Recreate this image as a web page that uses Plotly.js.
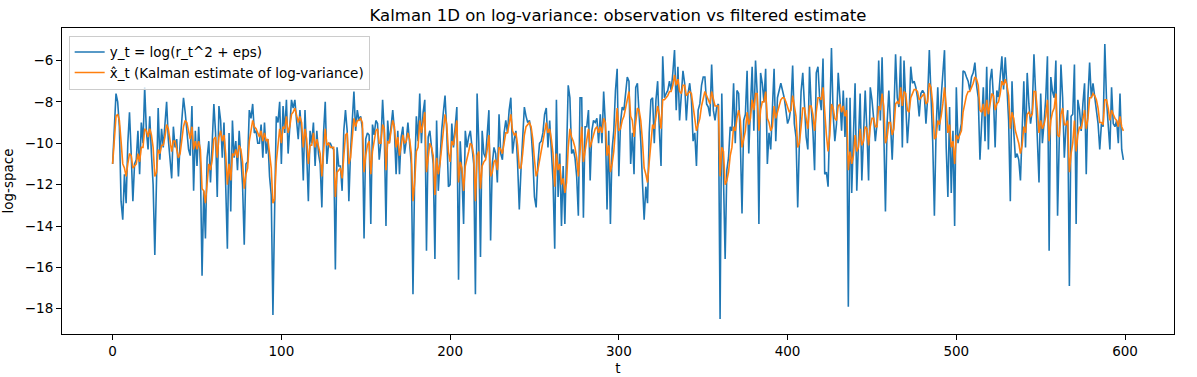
<!DOCTYPE html>
<html>
<head>
<meta charset="utf-8">
<script src="https://cdn.plot.ly/plotly-3.0.1.min.js"></script>
<style>html,body{margin:0;padding:0;background:#fff}#chart{width:1197px;height:377px}</style>
</head>
<body>
<div id="chart"></div>
<script>
const y_obs = [
-11.0,-9.0,-7.6,-8.0,-9.2,-12.8,-13.7,-11.5,-12.9,-10.0,
-8.5,-10.5,-12.8,-11.0,-10.8,-9.4,-11.5,-9.0,-10.0,-7.3,
-9.4,-10.3,-8.7,-10.5,-12.0,-15.4,-11.0,-8.3,-10.8,-9.3,
-10.2,-9.0,-8.0,-9.8,-10.7,-11.7,-9.2,-10.2,-9.8,-11.6,
-10.0,-8.8,-7.8,-8.5,-9.4,-10.3,-10.6,-8.2,-12.3,-9.4,
-11.1,-9.2,-11.0,-16.4,-12.3,-14.6,-10.7,-9.9,-11.9,-10.0,
-8.1,-9.5,-12.6,-8.2,-8.9,-10.7,-9.0,-12.0,-15.1,-9.5,
-13.3,-8.9,-10.7,-9.9,-11.3,-9.4,-10.5,-12.0,-14.9,-11.0,
-10.9,-8.4,-8.8,-8.1,-9.5,-9.4,-10.0,-10.0,-9.1,-10.7,
-9.0,-10.5,-9.8,-11.6,-12.5,-18.3,-13.3,-8.7,-9.0,-8.0,
-11.0,-8.2,-9.5,-7.9,-10.5,-9.0,-7.9,-8.3,-7.9,-8.9,
-9.8,-8.4,-9.5,-11.8,-8.4,-10.5,-12.8,-9.4,-10.0,-9.0,
-11.1,-9.4,-10.5,-11.0,-13.1,-9.5,-8.0,-11.0,-10.0,-10.0,
-10.2,-10.3,-16.1,-10.2,-11.1,-11.1,-12.3,-9.4,-8.4,-9.4,
-12.8,-10.4,-9.0,-7.5,-9.4,-8.4,-8.9,-8.7,-9.3,-14.6,
-9.8,-9.5,-9.6,-13.9,-9.1,-9.6,-8.9,-9.05,-10.8,-10.0,
-7.9,-9.5,-14.0,-8.9,-10.0,-9.2,-8.4,-9.4,-11.5,-9.4,
-11.5,-9.7,-9.2,-10.5,-9.9,-9.0,-9.9,-11.0,-17.3,-11.5,
-8.7,-9.9,-7.6,-10.0,-8.5,-7.9,-15.2,-9.7,-9.4,-10.3,
-11.0,-15.6,-8.9,-12.3,-10.5,-9.4,-8.5,-7.7,-9.4,-12.1,
-12.0,-9.05,-10.2,-9.0,-8.25,-16.6,-9.9,-11.5,-13.9,-9.4,
-10.2,-9.7,-9.4,-10.2,-11.0,-17.3,-7.6,-10.0,-15.5,-9.4,
-10.5,-10.7,-9.5,-8.4,-14.7,-11.0,-10.2,-10.5,-11.9,-8.6,
-10.5,-10.8,-9.5,-8.9,-9.5,-8.4,-7.8,-10.5,-9.8,-9.4,
-11.0,-13.2,-11.3,-9.5,-8.25,-8.7,-9.0,-8.9,-9.4,-10.7,
-12.6,-13.1,-11.0,-10.0,-9.9,-9.5,-8.6,-8.3,-10.2,-8.9,
-10.7,-11.8,-15.1,-7.9,-12.6,-10.5,-14.0,-11.1,-13.9,-11.0,
-7.2,-7.8,-10.5,-10.3,-10.7,-11.6,-13.5,-7.8,-7.8,-13.6,
-9.2,-9.2,-8.4,-11.8,-9.4,-8.9,-9.0,-8.8,-10.0,-8.6,
-10.0,-7.5,-9.05,-13.2,-9.4,-13.9,-10.3,-9.4,-7.45,-6.4,
-11.6,-9.0,-8.25,-8.4,-7.5,-6.8,-7.0,-11.0,-9.5,-11.5,
-7.3,-7.1,-8.6,-9.9,-11.9,-13.7,-12.1,-12.9,-9.5,-7.9,
-7.8,-10.0,-7.9,-7.0,-9.4,-11.1,-5.8,-7.8,-7.6,-7.45,
-7.0,-7.45,-6.6,-5.5,-8.4,-6.3,-8.9,-7.8,-6.5,-7.1,
-8.9,-7.6,-7.1,-7.9,-9.9,-9.5,-11.1,-8.4,-8.1,-7.2,
-6.8,-6.8,-8.1,-8.25,-8.7,-6.2,-8.4,-8.9,-8.25,-8.1,
-18.5,-7.6,-11.0,-15.6,-11.3,-10.7,-9.2,-9.4,-7.1,-10.0,
-7.45,-7.6,-9.9,-13.4,-8.9,-8.6,-6.5,-10.5,-8.25,-6.3,
-9.4,-6.0,-7.6,-13.9,-6.6,-7.1,-8.0,-6.4,-11.0,-9.5,
-10.3,-8.7,-6.4,-9.9,-7.8,-7.45,-7.1,-7.45,-7.8,-8.4,
-9.05,-8.8,-8.25,-6.24,-9.05,-9.7,-13.1,-9.9,-7.5,-6.6,
-8.25,-9.7,-10.3,-6.3,-8.25,-9.4,-11.3,-6.6,-6.3,-7.8,
-8.4,-5.9,-11.5,-11.4,-12.1,-7.8,-5.4,-8.6,-9.9,-9.05,
-6.6,-7.8,-9.4,-7.45,-9.7,-7.8,-17.9,-7.8,-12.4,-9.7,
-7.1,-12.3,-9.9,-7.6,-11.8,-9.4,-7.45,-9.4,-11.8,-7.3,
-7.9,-8.8,-9.9,-9.05,-6.0,-8.9,-5.85,-9.4,-13.3,-9.0,
-7.45,-9.05,-10.8,-8.7,-5.7,-7.8,-8.25,-5.8,-10.2,-6.0,
-7.8,-10.0,-8.7,-6.3,-7.1,-7.0,-7.3,-7.8,-8.7,-7.6,
-7.45,-7.6,-9.05,-7.8,-5.5,-7.8,-9.9,-13.5,-9.4,-7.3,
-9.4,-7.8,-6.8,-5.5,-10.2,-12.6,-8.25,-12.4,-9.4,-14.0,
-7.3,-10.0,-9.5,-9.05,-6.5,-6.56,-6.8,-7.0,-7.45,-6.8,
-6.6,-6.1,-7.2,-7.8,-10.8,-8.6,-7.3,-9.9,-6.3,-10.3,
-7.0,-6.4,-7.8,-10.2,-7.45,-7.77,-6.8,-5.8,-7.4,-5.85,
-7.3,-8.9,-12.8,-7.0,-9.4,-10.7,-10.5,-10.8,-11.8,-9.4,
-7.0,-10.2,-6.6,-8.1,-9.05,-8.4,-5.7,-7.6,-10.3,-11.9,
-7.6,-10.0,-9.0,-7.8,-5.8,-15.2,-6.8,-7.5,-7.8,-6.0,
-13.5,-9.9,-6.2,-7.8,-10.7,-9.2,-8.4,-16.9,-8.7,-8.6,
-6.2,-13.9,-7.9,-8.4,-9.4,-8.1,-7.1,-11.5,-7.8,-6.1,
-7.8,-7.1,-7.8,-8.25,-9.05,-10.3,-9.05,-9.2,-5.2,-7.9,
-9.05,-10.3,-7.3,-9.05,-9.2,-8.9,-10.0,-7.6,-10.3,-10.8
];

// Kalman estimate of log-variance, t = 0..599
const x_hat = [
-11.0,-9.8,-8.7,-8.6,-8.9,-9.9,-11.0,-11.2,-11.6,-11.0,
-10.5,-10.6,-11.2,-11.1,-11.0,-10.5,-10.9,-10.2,-10.2,-9.3,
-9.4,-9.7,-9.3,-9.6,-10.2,-11.6,-11.4,-10.3,-10.5,-10.1,
-10.1,-9.7,-9.1,-9.3,-9.8,-10.4,-9.9,-9.9,-10.3,-10.7,
-10.5,-9.9,-9.2,-8.9,-9.0,-9.4,-9.8,-9.2,-10.3,-9.9,
-10.3,-9.9,-10.3,-12.2,-12.3,-12.9,-11.9,-11.0,-11.3,-10.8,
-9.8,-9.7,-10.7,-9.7,-9.4,-9.9,-9.6,-10.5,-12.0,-11.0,
-11.8,-10.5,-10.6,-10.3,-10.7,-10.1,-10.3,-10.9,-12.2,-11.5,
-11.2,-9.9,-9.4,-8.9,-9.2,-9.3,-9.5,-9.7,-9.4,-9.9,
-9.5,-9.9,-9.8,-10.5,-11.2,-12.9,-12.7,-10.9,-10.0,-9.3,
-10.0,-9.2,-9.3,-8.7,-9.5,-9.2,-8.6,-8.5,-8.3,-8.6,
-9.0,-8.7,-9.0,-10.2,-9.3,-9.8,-11.0,-10.1,-10.1,-9.5,
-10.2,-9.8,-10.1,-10.5,-11.6,-10.5,-9.3,-10.1,-10.0,-10.2,
-10.2,-10.2,-12.6,-11.4,-11.3,-11.2,-11.7,-10.5,-9.6,-9.5,
-11.0,-10.7,-9.9,-8.8,-9.2,-8.9,-8.9,-8.8,-9.0,-11.4,
-10.6,-10.1,-9.9,-11.5,-10.4,-9.9,-9.4,-9.3,-10.0,-10.0,
-9.1,-9.3,-11.3,-9.9,-10.0,-9.4,-8.9,-9.2,-10.2,-9.7,
-10.6,-10.1,-9.6,-10.0,-9.9,-9.5,-9.8,-10.5,-12.8,-11.9,
-10.4,-10.2,-8.9,-9.5,-8.9,-8.5,-11.4,-10.5,-10.0,-10.2,
-10.6,-12.5,-10.7,-11.5,-11.0,-10.2,-9.3,-8.6,-9.1,-10.4,
-10.9,-9.9,-10.1,-9.5,-8.9,-11.9,-10.9,-11.2,-12.3,-11.1,
-10.8,-10.4,-10.0,-10.1,-10.6,-12.8,-10.6,-10.4,-12.2,-11.1,
-10.9,-10.8,-10.3,-9.6,-11.6,-11.4,-10.9,-10.8,-11.3,-10.2,
-10.3,-10.5,-10.0,-9.5,-9.5,-9.1,-8.6,-9.4,-9.6,-9.5,
-10.1,-11.2,-11.2,-10.5,-9.6,-9.2,-9.1,-9.0,-9.2,-9.8,
-10.8,-11.6,-11.3,-10.8,-10.4,-10.0,-9.4,-9.0,-9.5,-9.3,
-9.8,-10.5,-12.1,-10.5,-11.3,-11.0,-12.0,-11.7,-12.4,-11.9,
-10.2,-9.3,-9.7,-9.9,-10.2,-10.7,-11.6,-10.1,-9.2,-10.9,
-10.3,-9.9,-9.3,-10.2,-9.9,-9.5,-9.3,-9.2,-9.5,-9.2,
-9.5,-8.8,-9.0,-10.6,-10.1,-11.4,-11.0,-10.4,-9.3,-8.3,
-9.4,-9.3,-8.9,-8.7,-8.3,-7.8,-7.5,-8.7,-8.9,-9.7,
-8.8,-8.3,-8.4,-8.9,-9.9,-11.2,-11.5,-11.9,-10.9,-9.8,
-9.1,-9.3,-8.8,-8.2,-8.6,-9.3,-7.9,-7.9,-7.8,-7.7,
-7.5,-7.5,-7.2,-6.7,-7.2,-6.9,-7.5,-7.6,-7.2,-7.2,
-7.7,-7.6,-7.5,-7.6,-8.3,-8.7,-9.4,-9.1,-8.8,-8.2,
-7.8,-7.5,-7.7,-7.9,-8.1,-7.5,-7.8,-8.2,-8.2,-8.2,
-11.6,-10.2,-10.4,-12.0,-11.8,-11.4,-10.6,-10.2,-9.2,-9.4,
-8.8,-8.4,-8.9,-10.2,-9.8,-9.4,-8.5,-9.1,-8.8,-7.9,
-8.4,-7.6,-7.6,-9.4,-8.4,-8.0,-8.0,-7.5,-8.8,-9.0,
-9.4,-9.2,-8.2,-8.8,-8.5,-8.2,-7.9,-7.8,-7.8,-8.0,
-8.3,-8.5,-8.4,-7.7,-8.2,-8.7,-10.2,-10.0,-9.2,-8.3,
-8.3,-8.8,-9.3,-8.2,-8.2,-8.6,-9.4,-8.5,-7.8,-7.8,
-7.9,-7.3,-8.7,-9.6,-10.4,-9.6,-8.1,-8.3,-8.8,-8.9,
-8.2,-8.1,-8.5,-8.2,-8.7,-8.4,-11.3,-10.4,-11.0,-10.6,
-9.6,-10.4,-10.2,-9.3,-10.1,-9.9,-9.2,-9.3,-10.1,-9.2,
-8.8,-8.8,-9.2,-9.2,-8.2,-8.4,-7.6,-8.2,-10.0,-9.7,
-9.0,-9.0,-9.6,-9.3,-8.1,-8.0,-8.1,-7.3,-8.2,-7.5,
-7.6,-8.4,-8.5,-7.8,-7.6,-7.4,-7.4,-7.5,-7.9,-7.8,
-7.7,-7.6,-8.1,-8.0,-7.1,-7.3,-8.1,-9.8,-9.7,-8.9,
-9.1,-8.7,-8.1,-7.3,-8.2,-9.5,-9.1,-10.2,-9.9,-11.0,
-9.6,-9.8,-9.6,-9.4,-8.5,-8.0,-7.7,-7.5,-7.5,-7.3,
-7.1,-6.8,-6.9,-7.2,-8.4,-8.5,-8.1,-8.7,-7.9,-8.6,
-8.1,-7.6,-7.7,-8.4,-8.1,-8.0,-7.6,-7.0,-7.2,-6.9,
-7.2,-7.7,-9.3,-8.5,-8.8,-9.4,-9.7,-10.0,-10.5,-10.1,
-9.2,-9.5,-8.6,-8.5,-8.7,-8.6,-7.5,-7.5,-8.4,-9.5,
-8.9,-9.3,-9.1,-8.7,-7.9,-9.9,-8.9,-8.5,-8.3,-7.6,
-9.6,-9.7,-8.6,-8.3,-9.1,-9.1,-8.9,-11.4,-10.5,-10.0,
-8.9,-10.4,-9.6,-9.2,-9.3,-8.9,-8.4,-9.3,-8.8,-7.8,
-7.8,-7.6,-7.7,-7.9,-8.3,-9.0,-9.0,-9.1,-7.9,-7.9,
-8.3,-8.9,-8.4,-8.6,-8.8,-8.9,-9.2,-8.7,-9.2,-9.4
];

const t = y_obs.map((_, i) => i);

const seriesNames = ["y_t = log(r_t^2 + eps)", "x\u0302_t (Kalman estimate of log-variance)"];
const xTicks = [0, 100, 200, 300, 400, 500, 600];
const yTicks = [-18, -16, -14, -12, -10, -8, -6];

const font = "DejaVu Sans, sans-serif";

const traces = [
  {x: t, y: y_obs, type: "scatter", mode: "lines", name: seriesNames[0],
   line: {color: "#1f77b4", width: 1.6}},
  {x: t, y: x_hat, type: "scatter", mode: "lines", name: seriesNames[1],
   line: {color: "#ff7f0e", width: 1.6}}
];

const axisCommon = {
  showgrid: false, zeroline: false, showline: true, mirror: true,
  linecolor: "#000", linewidth: 1, ticks: "outside", ticklen: 5,
  tickcolor: "#000", tickwidth: 1,
  tickfont: {family: font, size: 13.5, color: "#000"}
};

const layout = {
  width: 1197, height: 377,
  margin: {l: 62, r: 23, t: 28, b: 43},
  paper_bgcolor: "#fff", plot_bgcolor: "#fff",
  font: {family: font, size: 14, color: "#000"},
  title: {text: "Kalman 1D on log-variance: observation vs filtered estimate",
          font: {family: font, size: 16.5, color: "#000"},
          x: 0.5, xref: "paper", xanchor: "center", y: 0.96, yref: "container", yanchor: "middle"},
  xaxis: Object.assign({}, axisCommon, {
    range: [-30, 629], tickvals: xTicks, ticktext: xTicks.map(String),
    title: {text: "t", font: {family: font, size: 13.5, color: "#000"}, standoff: 5}
  }),
  yaxis: Object.assign({}, axisCommon, {
    range: [-19.22, -4.43], tickvals: yTicks, ticktext: yTicks.map(v => (v < 0 ? "\u2212" + Math.abs(v) : String(v))),
    title: {text: "log-space", font: {family: font, size: 13.5, color: "#000"}, standoff: 8}
  }),
  showlegend: true,
  legend: {x: 0.006, y: 0.975, xanchor: "left", yanchor: "top",
           bgcolor: "rgba(255,255,255,0.8)", bordercolor: "#cccccc", borderwidth: 1,
           font: {family: font, size: 13.5, color: "#000"}, tracegroupgap: 0}
};

Plotly.newPlot("chart", traces, layout, {displayModeBar: false, staticPlot: true});
</script>
</body>
</html>
